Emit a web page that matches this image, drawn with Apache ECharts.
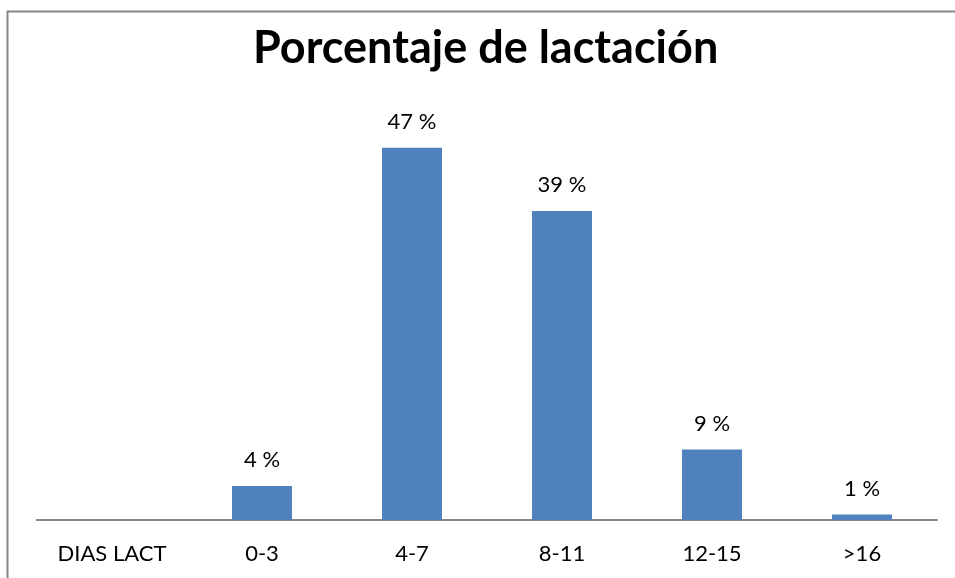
<!DOCTYPE html>
<html>
<head>
<meta charset="utf-8" />
<script type="text/javascript" src="https://cdn.jsdelivr.net/npm/echarts@6/dist/echarts.min.js"></script>
<title>Porcentaje de lactación</title>
<style>
  html, body { margin: 0; padding: 0; background: #fff; }
  #main { width: 955px; height: 578px; }
</style>
</head>
<body>
<div id="main"></div>
<script type="text/javascript">
var categorias = ['DIAS LACT', '0-3', '4-7', '8-11', '12-15', '>16'];
var porcentajes = ['-', 4.3, 47, 39, 8.9, 0.7];

var myChart = echarts.init(document.getElementById('main'));
var fuente = 'Lato, "Open Sans", sans-serif';

var option = {
  backgroundColor: '#ffffff',
  animation: false,
  title: {
    text: 'Porcentaje de lactación',
    left: 248,
    top: 21,
    textStyle: { fontFamily: fuente, fontSize: 45, fontWeight: 'bold', color: '#000' }
  },
  graphic: [{
    type: 'rect',
    shape: { x: 7.5, y: 11.5, width: 1000, height: 700 },
    style: { fill: 'none', stroke: '#868686', lineWidth: 2 },
    silent: true
  }],
  grid: { left: 37, right: 18, top: 124, bottom: 58 },
  xAxis: {
    type: 'category',
    data: categorias,
    axisLine: { lineStyle: { color: '#868686', width: 2 } },
    axisTick: { show: false },
    axisLabel: { fontFamily: fuente, fontSize: 22, color: '#000', margin: 23 }
  },
  yAxis: {
    type: 'value',
    min: 0,
    max: 50,
    show: false,
    splitLine: { show: false }
  },
  series: [{
    name: 'Porcentaje',
    type: 'bar',
    data: porcentajes,
    barWidth: '40%',
    itemStyle: { color: '#4F81BD' },
    label: {
      show: true,
      position: 'top',
      distance: 15,
      formatter: function (p) { return Math.round(p.value) + ' %'; },
      fontFamily: fuente,
      fontSize: 22,
      color: '#000'
    }
  }]
};
myChart.setOption(option);
</script>
</body>
</html>
